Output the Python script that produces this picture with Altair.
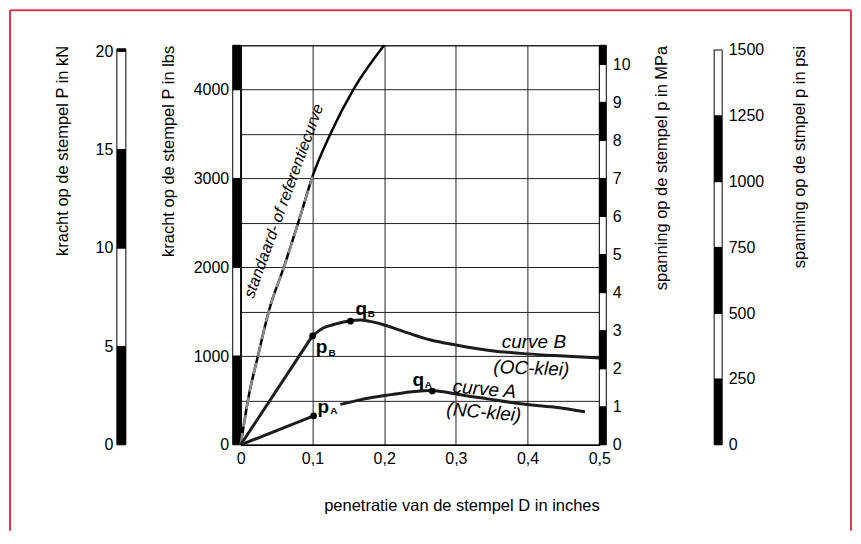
import altair as alt
import pandas as pd

# ---------------- data ----------------
# standard / reference curve (penetration in inches, load in lbs)
pen_std = [0, 0.01, 0.024, 0.039, 0.061, 0.084, 0.1, 0.125, 0.157, 0.2]
load_std = [0, 500, 1000, 1500, 2020, 2600, 3020, 3500, 4000, 4500]

# curve B (OC-klei): straight part up to p_B, then the curved part
pen_B1 = [0, 0.1]
load_B1 = [0, 1226]
pen_B2 = [0.1, 0.115, 0.13, 0.14, 0.153, 0.167, 0.18, 0.2, 0.233, 0.265, 0.3, 0.35, 0.4, 0.45, 0.5]
load_B2 = [1226, 1316, 1355, 1378, 1398, 1405, 1390, 1350, 1260, 1181, 1125, 1060, 1024, 1000, 978]

# curve A (NC-klei), drawn in two pieces (gap behind the p_A label)
pen_A1 = [0, 0.1017]
load_A1 = [0, 326]
pen_A2 = [0.139, 0.16, 0.185, 0.21, 0.235, 0.255, 0.267, 0.28, 0.3, 0.344, 0.39, 0.436, 0.48]
load_A2 = [455, 495, 535, 565, 595, 610, 612, 600, 572, 517, 462, 425, 372]

# marked points p_A, p_B, q_A, q_B
marker_pen = [0.1017, 0.1003, 0.267, 0.153]
marker_load = [326, 1226, 606, 1392]

# point labels (letter + subscript)
pt_letter = ["p", "p", "q", "q"]
pt_letter_x = [0.1072, 0.1045, 0.2396, 0.1602]
pt_letter_y = [360, 1029, 664, 1457]
pt_sub = ["A", "B", "A", "B"]
pt_sub_x = [0.1250, 0.1225, 0.2565, 0.1770]
pt_sub_y = [349, 1001, 641, 1440]

# curve labels
curve_text = ["curve B", "(OC-klei)", "curve A", "(NC-klei)"]
curve_text_x = [0.4088, 0.4053, 0.3398, 0.3391]
curve_text_y = [1153, 860, 625, 366]
curve_text_angle = [0, 2, 5, 5]

std_text = ["standaard- of referentiecurve"]
std_text_x = [0.060]
std_text_y = [2745]
std_text_angle = [290]

# axes ticks
x_ticks = [0, 0.1, 0.2, 0.3, 0.4, 0.5]
lbs_grid = [0, 500, 1000, 1500, 2000, 2500, 3000, 3500, 4000, 4500]
lbs_ticks = [0, 1000, 2000, 3000, 4000]
kN_ticks = [0, 5, 10, 15, 20]
MPa_ticks = [0, 1, 2, 3, 4, 5, 6, 7, 8, 9, 10]
psi_ticks = [0, 250, 500, 750, 1000, 1250, 1500]

# black / white scale bands (lower, upper)
kN_lo = [0, 5, 10, 15, 20]
kN_hi = [5, 10, 15, 20, 20.12]
lbs_lo = [0, 1000, 2000, 3000, 4000]
lbs_hi = [1000, 2000, 3000, 4000, 4500]
MPa_lo = [0, 1, 2, 3, 4, 5, 6, 7, 8, 9, 10]
MPa_hi = [1, 2, 3, 4, 5, 6, 7, 8, 9, 10, 10.5]
psi_lo = [0, 250, 500, 750, 1000, 1250]
psi_hi = [250, 500, 750, 1000, 1250, 1500]

FONT = "Liberation Sans"
H = 400


def band_chart(lo, hi, dmax, ticks, title, orient, width, title_x, pad):
    df = pd.DataFrame({
        "lo": lo, "hi": hi,
        "fill": ["black" if i % 2 == 0 else "white" for i in range(len(lo))],
    })
    axis = alt.Axis(
        orient=orient, values=ticks, format="d", title=title,
        titleAngle=270, titleAlign="right", titleBaseline="middle",
        titleX=title_x, titleY=0, labelPadding=pad, ticks=False,
        domain=False, grid=False,
    )
    return alt.Chart(df).mark_rect(stroke="black", strokeWidth=1).encode(
        y=alt.Y("lo:Q", scale=alt.Scale(domain=[0, dmax], nice=False), axis=axis),
        y2="hi:Q",
        fill=alt.Fill("fill:N", scale=None),
    ).properties(width=width, height=H)


def spacer(w):
    return alt.Chart(pd.DataFrame({"k": [0]})).mark_point(opacity=0).encode(
        x=alt.value(0), y=alt.value(0)
    ).properties(width=w, height=H)


kN_panel = band_chart(kN_lo, kN_hi, 20.3, kN_ticks, "kracht op de stempel P in kN", "left", 9, -54, 4)
lbs_panel = band_chart(lbs_lo, lbs_hi, 4500, lbs_ticks, "kracht op de stempel P in lbs", "left", 8, -64, 4)
MPa_panel = band_chart(MPa_lo, MPa_hi, 10.5, MPa_ticks, "spanning op de stempel p in MPa", "right", 7, 55, 6)
psi_panel = band_chart(psi_lo, psi_hi, 1518, psi_ticks, "spanning op de stmpel p in psi", "right", 8, 77, 6)

# ---------------- main panel ----------------
xs = alt.Scale(domain=[0, 0.5], nice=False)
ys = alt.Scale(domain=[0, 4500], nice=False)

x_axis = alt.Axis(
    values=x_ticks,
    labelExpr="datum.value == 0 ? '0' : replace(format(datum.value, '.1f'), '.', ',')",
    grid=True, gridColor="#222", gridWidth=1, ticks=False, labelPadding=6,
    domainColor="black", domainWidth=1.5,
    title="penetratie van de stempel D in inches",
    titleX=221, titleY=61, titleBaseline="middle", titleAlign="center",
)
y_axis = alt.Axis(values=lbs_grid, labels=False, ticks=False, grid=True,
                  gridColor="#222", gridWidth=1, domainColor="black", domainWidth=1.2,
                  title=None)

df_std = pd.DataFrame({"x": pen_std, "y": load_std})
df_B1 = pd.DataFrame({"x": pen_B1, "y": load_B1})
df_B2 = pd.DataFrame({"x": pen_B2, "y": load_B2})
df_A1 = pd.DataFrame({"x": pen_A1, "y": load_A1})
df_A2 = pd.DataFrame({"x": pen_A2, "y": load_A2})

LINE = "#1c1c1c"

base_std = alt.Chart(df_std).mark_line(color="black", strokeWidth=2.5, interpolate="monotone").encode(
    x=alt.X("x:Q", scale=xs, axis=x_axis),
    y=alt.Y("y:Q", scale=ys, axis=y_axis),
)
std_dash = alt.Chart(df_std[df_std["x"] <= 0.1]).mark_line(
    color="#8a8a8a", strokeWidth=2.5, strokeDash=[12, 6], interpolate="monotone"
).encode(x=alt.X("x:Q", scale=xs), y=alt.Y("y:Q", scale=ys))


def curve(df, interp):
    return alt.Chart(df).mark_line(color=LINE, strokeWidth=3, interpolate=interp).encode(
        x=alt.X("x:Q", scale=xs), y=alt.Y("y:Q", scale=ys)
    )


line_B1 = curve(df_B1, "linear")
line_B2 = curve(df_B2, "monotone")
line_A1 = curve(df_A1, "linear")
line_A2 = curve(df_A2, "monotone")

pts = alt.Chart(pd.DataFrame({"x": marker_pen, "y": marker_load})).mark_circle(
    color="black", size=45, opacity=1
).encode(x=alt.X("x:Q", scale=xs), y=alt.Y("y:Q", scale=ys))

letters = alt.Chart(pd.DataFrame({"x": pt_letter_x, "y": pt_letter_y, "t": pt_letter})).mark_text(
    font=FONT, fontSize=19, fontWeight="bold", align="left", baseline="alphabetic", color="black"
).encode(x=alt.X("x:Q", scale=xs), y=alt.Y("y:Q", scale=ys), text="t:N")
subs = alt.Chart(pd.DataFrame({"x": pt_sub_x, "y": pt_sub_y, "t": pt_sub})).mark_text(
    font=FONT, fontSize=10, fontWeight="bold", align="left", baseline="alphabetic", color="black"
).encode(x=alt.X("x:Q", scale=xs), y=alt.Y("y:Q", scale=ys), text="t:N")

curve_lbl = alt.Chart(pd.DataFrame({
    "x": curve_text_x, "y": curve_text_y, "t": curve_text, "a": curve_text_angle
})).mark_text(
    font=FONT, fontSize=19, fontStyle="italic", align="center", baseline="middle", color="black"
).encode(x=alt.X("x:Q", scale=xs), y=alt.Y("y:Q", scale=ys), text="t:N",
         angle=alt.Angle("a:Q", scale=None))

std_lbl = alt.Chart(pd.DataFrame({
    "x": std_text_x, "y": std_text_y, "t": std_text, "a": std_text_angle
})).mark_text(
    font=FONT, fontSize=16, fontStyle="italic", align="center", baseline="middle", color="black"
).encode(x=alt.X("x:Q", scale=xs), y=alt.Y("y:Q", scale=ys), text="t:N",
         angle=alt.Angle("a:Q", scale=None))

# red frame around the figure (decoration)
fdf = pd.DataFrame({"k": [0]})
RED = "#dc3a4c"
frame_l = alt.Chart(fdf).mark_rule(color=RED, strokeWidth=2).encode(
    x=alt.value(-231), y=alt.value(-35), y2=alt.value(486))
frame_r = alt.Chart(fdf).mark_rule(color=RED, strokeWidth=2).encode(
    x=alt.value(611), y=alt.value(-35), y2=alt.value(486))
frame_t = alt.Chart(fdf).mark_rule(color=RED, strokeWidth=2).encode(
    x=alt.value(-231), x2=alt.value(611), y=alt.value(-35))

main = alt.layer(
    base_std, std_dash, line_B1, line_B2, line_A1, line_A2, pts, letters, subs,
    curve_lbl, std_lbl, frame_l, frame_r, frame_t,
).properties(width=359, height=H, view=alt.ViewBackground(stroke="black", strokeWidth=1))

chart = alt.hconcat(
    kN_panel, spacer(107), lbs_panel, main, MPa_panel, spacer(108), psi_panel,
    spacing=0, bounds="flush",
).properties(padding=0).configure_view(stroke="transparent").configure_axis(
    labelFont=FONT, titleFont=FONT, labelColor="black", titleColor="black",
    labelFontSize=16, titleFontSize=16.5, titleFontWeight="normal",
    labelFlush=False, labelOverlap=False,
)

chart.save("out.html", embed_options={"renderer": "svg", "actions": False})
